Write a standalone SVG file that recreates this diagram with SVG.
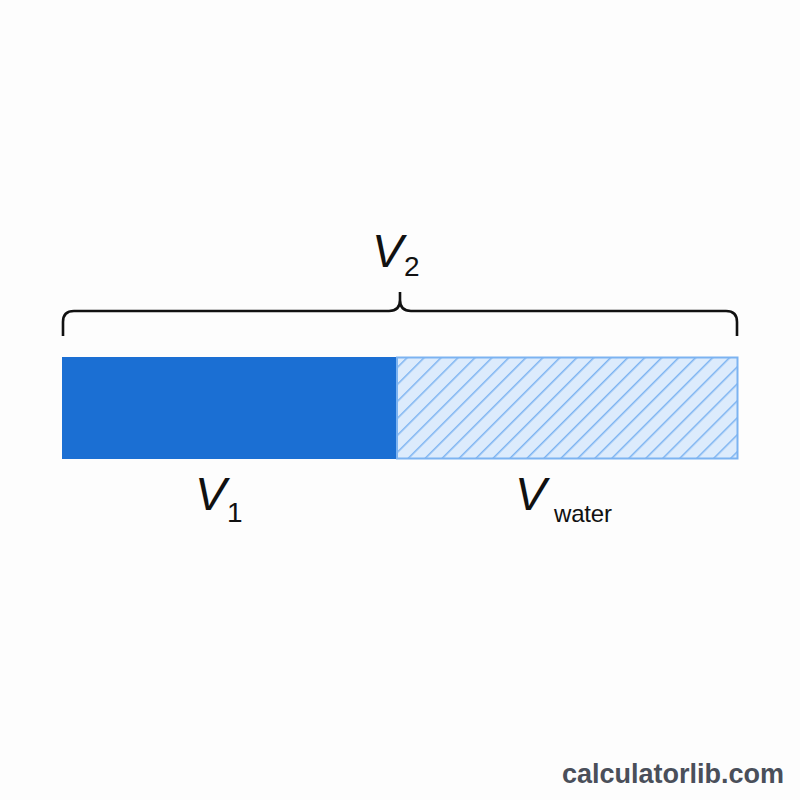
<svg xmlns="http://www.w3.org/2000/svg" width="800" height="800" viewBox="0 0 800 800">
<style>
.v{font-family:"Liberation Sans",Arial,sans-serif;font-style:italic;font-size:47px;fill:#111}
.s{font-family:"Liberation Sans",Arial,sans-serif;font-size:28px;fill:#111}
.w{font-family:"Liberation Sans",Arial,sans-serif;font-size:24px;fill:#111}
.brand{font-family:"Liberation Sans",Arial,sans-serif;font-weight:bold;font-size:27px;fill:#4a4f5a}
</style>
<defs>
<pattern id="hatch" patternUnits="userSpaceOnUse" width="12" height="12" patternTransform="rotate(45)">
<rect width="12" height="12" fill="#dcebfc"/>
<line x1="0" y1="0" x2="0" y2="12" stroke="#7cb3f1" stroke-width="3"/>
</pattern>
</defs>
<rect width="800" height="800" fill="#fdfdfd"/>
<g id="v1-bar"><rect x="62" y="357" width="335" height="102" fill="#1b6fd3"/></g>
<g id="water-bar"><rect x="397" y="357.5" width="340.5" height="101" fill="url(#hatch)" stroke="#7cb3f1" stroke-width="2"/></g>
<g id="brace"><path d="M63,336 V322 Q63,311 74,311 H389 Q400,311 400,300 V292 M400,292 V300 Q400,311 411,311 H726 Q737,311 737,322 V336" fill="none" stroke="#111" stroke-width="2.6"/></g>
<g id="label-v2"><text class="v" x="372" y="267">V</text><text class="s" x="404" y="276">2</text></g>
<g id="label-v1"><text class="v" x="195" y="510">V</text><text class="s" x="227" y="522">1</text></g>
<g id="label-vwater"><text class="v" x="515" y="510">V</text><text class="w" x="554" y="522" textLength="58">water</text></g>
<text class="brand" x="562" y="783">calculatorlib.com</text>
</svg>
